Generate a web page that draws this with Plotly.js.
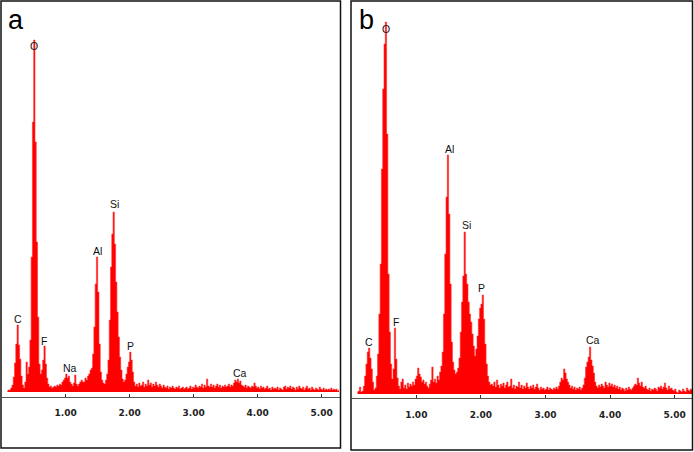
<!DOCTYPE html>
<html>
<head>
<meta charset="utf-8">
<script src="https://cdn.plot.ly/plotly-3.0.1.min.js"></script>
<style>
  html, body { margin: 0; padding: 0; background: #fff; }
  #chart { width: 694px; height: 452px; }
</style>
</head>
<body>
<div id="chart"></div>
<script>
// EDS spectra, channels of 0.02 keV starting at 0.09 keV
const channelStart = 0.09;
const channelWidth = 0.02;

const countsA = [
  1, 2, 2, 4, 7, 15, 29, 48, 67, 47,
  33, 16, 7, 4, 10, 30, 18, 25, 52, 135,
  270, 352, 250, 150, 75, 28, 18, 22, 32, 46,
  28, 14, 8, 5, 6, 4, 5, 6, 5, 7,
  6, 8, 7, 10, 12, 14, 18, 14, 16, 10,
  8, 6, 9, 17, 8, 6, 8, 10, 12, 10,
  10, 14, 12, 16, 18, 22, 24, 38, 65, 108,
  135, 100, 48, 20, 12, 9, 8, 12, 18, 32,
  72, 125, 158, 180, 148, 110, 80, 55, 35, 22,
  13, 10, 12, 18, 25, 30, 40, 32, 20, 10,
  6, 8, 5, 9, 6, 7, 10, 5, 8, 6,
  12, 7, 9, 5, 8, 6, 10, 7, 5, 8,
  6, 4, 7, 5, 4, 6, 3, 5, 4, 6,
  4, 3, 5, 4, 6, 3, 4, 5, 3, 4,
  5, 3, 4, 6, 3, 5, 4, 7, 5, 4,
  6, 5, 8, 4, 7, 5, 13, 6, 5, 8,
  5, 7, 4, 6, 8, 5, 7, 4, 6, 5,
  7, 5, 6, 8, 5, 7, 6, 9, 12, 10,
  13, 9, 11, 7, 6, 5, 7, 4, 6, 5,
  4, 6, 5, 9, 6, 4, 5, 3, 6, 4,
  5, 3, 4, 6, 3, 4, 2, 5, 3, 4,
  3, 5, 2, 4, 3, 2, 5, 6, 3, 5,
  4, 6, 3, 5, 4, 2, 5, 3, 6, 4,
  3, 5, 2, 4, 6, 3, 4, 2, 5, 3,
  2, 4, 3, 2, 5, 3, 2, 4, 2, 3,
  2, 3, 2, 4, 2, 3, 2, 3, 1, 2
];

const countsB = [
  2, 3, 7, 2, 3, 8, 18, 30, 42, 46,
  36, 25, 12, 4, 6, 18, 40, 80, 130, 225,
  305, 350, 372, 260, 120, 62, 30, 15, 25, 66,
  35, 16, 8, 5, 12, 15, 6, 9, 5, 11,
  7, 10, 8, 12, 9, 15, 18, 26, 20, 17,
  12, 14, 10, 12, 8, 6, 10, 14, 27, 12,
  15, 11, 18, 14, 22, 28, 42, 80, 140, 197,
  239, 180, 110, 52, 32, 24, 20, 22, 26, 36,
  62, 92, 118, 162, 120, 110, 92, 80, 72, 60,
  48, 38, 45, 58, 75, 86, 90, 99, 75, 50,
  30, 18, 12, 9, 10, 8, 12, 7, 14, 9,
  6, 10, 8, 11, 6, 9, 12, 7, 8, 15,
  6, 9, 5, 8, 7, 12, 6, 9, 5, 8,
  6, 11, 7, 5, 8, 6, 9, 5, 7, 10,
  6, 4, 7, 5, 6, 4, 5, 7, 4, 6,
  5, 4, 6, 5, 7, 5, 8, 12, 16, 14,
  25, 21, 15, 12, 9, 6, 8, 5, 7, 4,
  6, 5, 7, 4, 6, 9, 16, 27, 32, 37,
  47, 34, 28, 21, 12, 8, 6, 9, 7, 10,
  8, 6, 12, 9, 7, 11, 8, 10, 7, 9,
  6, 8, 5, 7, 4, 6, 5, 3, 6, 4,
  7, 5, 4, 6, 8, 10, 9, 16, 11, 8,
  12, 7, 6, 8, 5, 4, 6, 3, 5, 4,
  6, 5, 3, 7, 6, 8, 5, 7, 11, 6,
  4, 8, 5, 6, 4, 3, 5, 2, 1, 4,
  3, 2, 5, 3, 2, 6, 4, 3, 5, 4
];

// peak labels: element, energy (keV), label level (counts)
const elementsA = ['C', 'O', 'F', 'Na', 'Al', 'Si', 'P', 'Ca'];
const energyA   = [0.25, 0.51, 0.665, 1.07, 1.50, 1.76, 2.015, 3.72];
const levelA    = [73, 346, 51, 24, 141, 188, 46, 19];

const elementsB = ['C', 'O', 'F', 'Al', 'Si', 'P', 'Ca'];
const energyB   = [0.263, 0.526, 0.68, 1.517, 1.77, 2.017, 3.735];
const levelB    = [52, 365, 72, 245, 169, 106, 54];

const tickVals = [1, 2, 3, 4, 5];

const W = 694, H = 452;
const px = v => v / W;
const py = v => 1 - v / H;

function spectrum(counts, xa, ya) {
  return {
    type: 'scatter', mode: 'lines',
    x0: channelStart, dx: channelWidth, y: counts,
    xaxis: xa, yaxis: ya,
    fill: 'tozeroy', fillcolor: '#ff0000',
    line: { color: '#ff3030', width: 0.6, shape: 'hvh' },
    hoverinfo: 'skip'
  };
}

const xBase = {
  showgrid: false, zeroline: false,
  showline: true, linecolor: '#555', linewidth: 1,
  ticks: 'inside', ticklen: 3, tickcolor: '#333', tickwidth: 1,
  tickvals: tickVals, tickformat: '.2f', ticklabelstandoff: 8,
  tickfont: { family: 'DejaVu Sans', size: 9, color: '#222', weight: 'bold' },
  fixedrange: true
};
const yBase = { visible: false, showgrid: false, zeroline: false, fixedrange: true };

function labels(names, es, levels, xr, yr) {
  return names.map((t, i) => ({
    x: es[i], y: levels[i], xref: xr, yref: yr, text: t, showarrow: false,
    xanchor: 'center', yanchor: 'middle',
    font: { family: 'Liberation Sans, Arial', size: 10.5, color: '#111' }
  }));
}

const layout = {
  width: W, height: H,
  margin: { l: 0, r: 0, t: 0, b: 0, pad: 0 },
  paper_bgcolor: '#fff', plot_bgcolor: 'rgba(0,0,0,0)',
  showlegend: false,
  xaxis: Object.assign({}, xBase, { domain: [px(1.7), px(340)], range: [0, 5.286], anchor: 'y' }),
  yaxis: Object.assign({}, yBase, { domain: [py(396.5), py(10)], range: [-4.5, 382], anchor: 'x' }),
  xaxis2: Object.assign({}, xBase, { domain: [px(351.7), px(692)], range: [0, 5.268], anchor: 'y2' }),
  yaxis2: Object.assign({}, yBase, { domain: [py(398), py(10)], range: [-4, 384], anchor: 'x2' }),
  shapes: [
    { type: 'rect', xref: 'paper', yref: 'paper', x0: px(1), x1: px(340.5), y0: py(448), y1: py(1),
      line: { color: '#111', width: 1.5 } },
    { type: 'rect', xref: 'paper', yref: 'paper', x0: px(351), x1: px(692.5), y0: py(450), y1: py(1),
      line: { color: '#111', width: 1.5 } }
  ],
  annotations: [
    { x: px(6), y: py(20), xref: 'paper', yref: 'paper', text: 'a', showarrow: false,
      xanchor: 'left', yanchor: 'middle', font: { family: 'Liberation Sans, Arial', size: 27, color: '#000' } },
    { x: px(357), y: py(20), xref: 'paper', yref: 'paper', text: 'b', showarrow: false,
      xanchor: 'left', yanchor: 'middle', font: { family: 'Liberation Sans, Arial', size: 27, color: '#000' } }
  ].concat(labels(elementsA, energyA, levelA, 'x', 'y'))
   .concat(labels(elementsB, energyB, levelB, 'x2', 'y2'))
};

Plotly.newPlot('chart', [spectrum(countsA, 'x', 'y'), spectrum(countsB, 'x2', 'y2')], layout,
  { displayModeBar: false, staticPlot: true });
</script>
</body>
</html>
